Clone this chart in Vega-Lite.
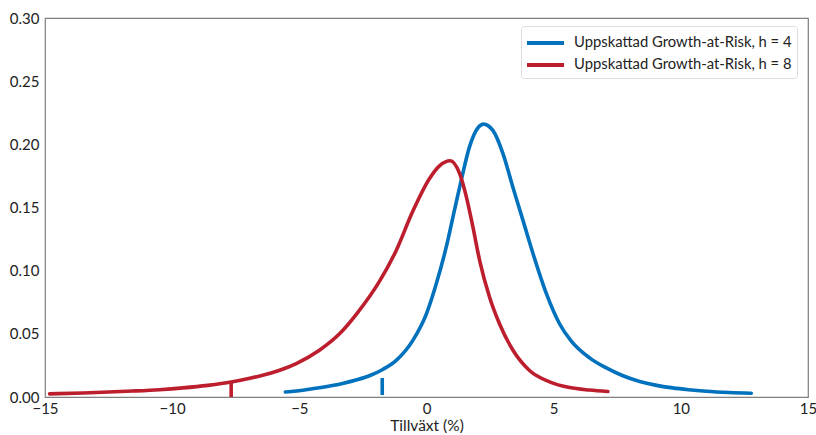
{
  "$schema": "https://vega.github.io/schema/vega-lite/v6.json",
  "width": 763,
  "height": 379,
  "autosize": {"type": "none"},
  "padding": {"left": 45, "top": 18, "right": 8, "bottom": 38},
  "background": "white",
  "config": {
    "font": "Lato",
    "view": {"stroke": "#7f7f7f", "strokeWidth": 1.2},
    "axis": {"domain": false, "ticks": false, "grid": false, "labelFlush": false, "labelOverlap": false, "labelFont": "Lato", "labelFontSize": 15, "labelColor": "#222222", "titleFont": "Lato", "titleFontSize": 15.5, "titleFontWeight": "normal", "titleColor": "#222222"}
  },
  "datasets": {
    "curves": [
      {"series": "Uppskattad Growth-at-Risk, h = 4", "x": -5.55, "y": 0.004},
      {"series": "Uppskattad Growth-at-Risk, h = 4", "x": -4.8, "y": 0.0056},
      {"series": "Uppskattad Growth-at-Risk, h = 4", "x": -4.08, "y": 0.0077},
      {"series": "Uppskattad Growth-at-Risk, h = 4", "x": -3.3, "y": 0.0107},
      {"series": "Uppskattad Growth-at-Risk, h = 4", "x": -2.7, "y": 0.0138},
      {"series": "Uppskattad Growth-at-Risk, h = 4", "x": -2.2, "y": 0.0172},
      {"series": "Uppskattad Growth-at-Risk, h = 4", "x": -1.72, "y": 0.0218},
      {"series": "Uppskattad Growth-at-Risk, h = 4", "x": -1.19, "y": 0.029},
      {"series": "Uppskattad Growth-at-Risk, h = 4", "x": -0.53, "y": 0.045},
      {"series": "Uppskattad Growth-at-Risk, h = 4", "x": 0.0, "y": 0.066},
      {"series": "Uppskattad Growth-at-Risk, h = 4", "x": 0.39, "y": 0.09},
      {"series": "Uppskattad Growth-at-Risk, h = 4", "x": 0.78, "y": 0.119},
      {"series": "Uppskattad Growth-at-Risk, h = 4", "x": 1.1, "y": 0.148},
      {"series": "Uppskattad Growth-at-Risk, h = 4", "x": 1.37, "y": 0.172},
      {"series": "Uppskattad Growth-at-Risk, h = 4", "x": 1.69, "y": 0.198},
      {"series": "Uppskattad Growth-at-Risk, h = 4", "x": 2.02, "y": 0.213},
      {"series": "Uppskattad Growth-at-Risk, h = 4", "x": 2.24, "y": 0.216},
      {"series": "Uppskattad Growth-at-Risk, h = 4", "x": 2.61, "y": 0.211},
      {"series": "Uppskattad Growth-at-Risk, h = 4", "x": 3.0, "y": 0.193},
      {"series": "Uppskattad Growth-at-Risk, h = 4", "x": 3.39, "y": 0.1665},
      {"series": "Uppskattad Growth-at-Risk, h = 4", "x": 3.79, "y": 0.14},
      {"series": "Uppskattad Growth-at-Risk, h = 4", "x": 4.18, "y": 0.114},
      {"series": "Uppskattad Growth-at-Risk, h = 4", "x": 4.71, "y": 0.082},
      {"series": "Uppskattad Growth-at-Risk, h = 4", "x": 5.23, "y": 0.058},
      {"series": "Uppskattad Growth-at-Risk, h = 4", "x": 5.7, "y": 0.044},
      {"series": "Uppskattad Growth-at-Risk, h = 4", "x": 6.41, "y": 0.031},
      {"series": "Uppskattad Growth-at-Risk, h = 4", "x": 7.07, "y": 0.023},
      {"series": "Uppskattad Growth-at-Risk, h = 4", "x": 7.7, "y": 0.017},
      {"series": "Uppskattad Growth-at-Risk, h = 4", "x": 8.38, "y": 0.0123},
      {"series": "Uppskattad Growth-at-Risk, h = 4", "x": 9.0, "y": 0.0094},
      {"series": "Uppskattad Growth-at-Risk, h = 4", "x": 9.68, "y": 0.0072},
      {"series": "Uppskattad Growth-at-Risk, h = 4", "x": 10.3, "y": 0.0058},
      {"series": "Uppskattad Growth-at-Risk, h = 4", "x": 11.0, "y": 0.0046},
      {"series": "Uppskattad Growth-at-Risk, h = 4", "x": 11.9, "y": 0.0036},
      {"series": "Uppskattad Growth-at-Risk, h = 4", "x": 12.77, "y": 0.003},
      {"series": "Uppskattad Growth-at-Risk, h = 8", "x": -14.82, "y": 0.0025},
      {"series": "Uppskattad Growth-at-Risk, h = 8", "x": -13.5, "y": 0.0032},
      {"series": "Uppskattad Growth-at-Risk, h = 8", "x": -12.5, "y": 0.0039},
      {"series": "Uppskattad Growth-at-Risk, h = 8", "x": -11.56, "y": 0.0047},
      {"series": "Uppskattad Growth-at-Risk, h = 8", "x": -10.5, "y": 0.0058},
      {"series": "Uppskattad Growth-at-Risk, h = 8", "x": -9.58, "y": 0.0072},
      {"series": "Uppskattad Growth-at-Risk, h = 8", "x": -8.6, "y": 0.0092},
      {"series": "Uppskattad Growth-at-Risk, h = 8", "x": -7.68, "y": 0.0118},
      {"series": "Uppskattad Growth-at-Risk, h = 8", "x": -6.9, "y": 0.015},
      {"series": "Uppskattad Growth-at-Risk, h = 8", "x": -6.44, "y": 0.0172},
      {"series": "Uppskattad Growth-at-Risk, h = 8", "x": -5.8, "y": 0.021},
      {"series": "Uppskattad Growth-at-Risk, h = 8", "x": -5.12, "y": 0.0265},
      {"series": "Uppskattad Growth-at-Risk, h = 8", "x": -4.21, "y": 0.037},
      {"series": "Uppskattad Growth-at-Risk, h = 8", "x": -3.42, "y": 0.05},
      {"series": "Uppskattad Growth-at-Risk, h = 8", "x": -2.7, "y": 0.067},
      {"series": "Uppskattad Growth-at-Risk, h = 8", "x": -1.85, "y": 0.0915},
      {"series": "Uppskattad Growth-at-Risk, h = 8", "x": -1.19, "y": 0.116},
      {"series": "Uppskattad Growth-at-Risk, h = 8", "x": -0.54, "y": 0.147},
      {"series": "Uppskattad Growth-at-Risk, h = 8", "x": 0.12, "y": 0.173},
      {"series": "Uppskattad Growth-at-Risk, h = 8", "x": 0.51, "y": 0.183},
      {"series": "Uppskattad Growth-at-Risk, h = 8", "x": 0.93, "y": 0.187},
      {"series": "Uppskattad Growth-at-Risk, h = 8", "x": 1.3, "y": 0.177},
      {"series": "Uppskattad Growth-at-Risk, h = 8", "x": 1.56, "y": 0.159},
      {"series": "Uppskattad Growth-at-Risk, h = 8", "x": 1.82, "y": 0.135},
      {"series": "Uppskattad Growth-at-Risk, h = 8", "x": 2.09, "y": 0.108},
      {"series": "Uppskattad Growth-at-Risk, h = 8", "x": 2.48, "y": 0.079},
      {"series": "Uppskattad Growth-at-Risk, h = 8", "x": 2.87, "y": 0.058},
      {"series": "Uppskattad Growth-at-Risk, h = 8", "x": 3.4, "y": 0.037},
      {"series": "Uppskattad Growth-at-Risk, h = 8", "x": 4.05, "y": 0.021},
      {"series": "Uppskattad Growth-at-Risk, h = 8", "x": 4.84, "y": 0.012},
      {"series": "Uppskattad Growth-at-Risk, h = 8", "x": 5.63, "y": 0.0075},
      {"series": "Uppskattad Growth-at-Risk, h = 8", "x": 6.4, "y": 0.0055},
      {"series": "Uppskattad Growth-at-Risk, h = 8", "x": 7.13, "y": 0.0043}
    ],
    "var": [
      {"series": "Uppskattad Growth-at-Risk, h = 4", "x": -1.74, "y0": 0.0016, "y1": 0.015},
      {"series": "Uppskattad Growth-at-Risk, h = 8", "x": -7.68, "y0": 0.0, "y1": 0.0118}
    ]
  },
  "layer": [
    {
      "data": {"name": "curves"},
      "mark": {"type": "line", "strokeWidth": 3.6, "interpolate": "monotone", "strokeCap": "round"},
      "encoding": {
        "x": {"field": "x", "type": "quantitative", "scale": {"domain": [-15, 15], "nice": false}, "axis": {"values": [-15, -10, -5, 0, 5, 10, 15], "labelPadding": 4, "title": "Tillväxt (%)", "titlePadding": 2, "labelExpr": "replace(datum.label, '-', '−')"}},
        "y": {"field": "y", "type": "quantitative", "scale": {"domain": [0, 0.3], "nice": false}, "axis": {"values": [0, 0.05, 0.1, 0.15, 0.2, 0.25, 0.3], "format": ".2f", "labelPadding": 6, "title": null}},
        "color": {
          "field": "series", "type": "nominal",
          "scale": {"domain": ["Uppskattad Growth-at-Risk, h = 4", "Uppskattad Growth-at-Risk, h = 8"], "range": ["#0071BC", "#BC1E2D"]},
          "legend": {"title": null, "orient": "none", "legendX": 476, "legendY": 8, "symbolType": "M-1.1,0H2.6", "symbolStrokeWidth": 4, "symbolSize": 400, "symbolFillColor": "transparent", "labelFont": "Lato", "labelFontSize": 14.8, "labelLimit": 0, "labelColor": "#222222", "labelOffset": 24, "rowPadding": 2, "padding": 5, "strokeColor": "#dddddd", "cornerRadius": 3, "fillColor": "white"}
        }
      }
    },
    {
      "data": {"name": "var"},
      "mark": {"type": "rule", "strokeWidth": 3.6},
      "encoding": {
        "x": {"field": "x", "type": "quantitative"},
        "y": {"field": "y0", "type": "quantitative"},
        "y2": {"field": "y1"},
        "color": {"field": "series", "type": "nominal", "legend": null}
      }
    }
  ]
}
